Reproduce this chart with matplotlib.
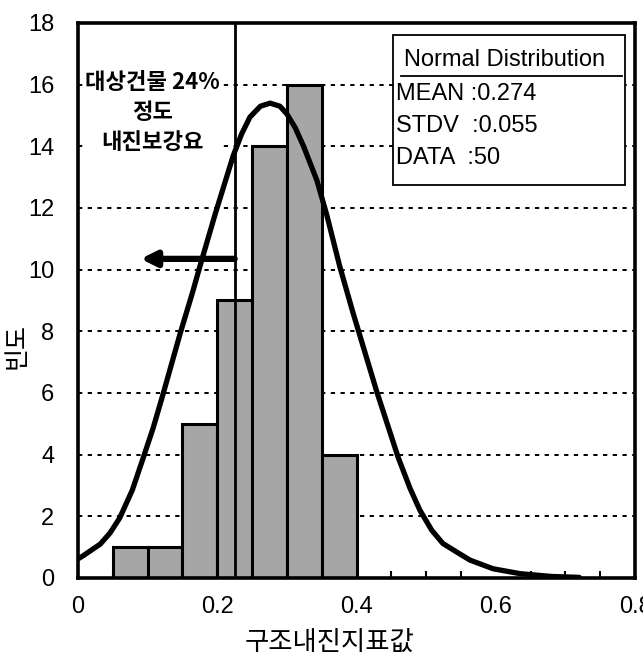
import matplotlib
matplotlib.use('Agg')
import matplotlib.pyplot as plt
from matplotlib.font_manager import fontManager
import numpy as np

# histogram of the seismic index (0.05 bins)
bin_left = [0.05, 0.10, 0.15, 0.20, 0.25, 0.30, 0.35]
counts = [1, 1, 5, 9, 14, 16, 4]
bin_width = 0.05

# fitted curve, read point by point
curve_x = [0.0, 0.006, 0.032, 0.046, 0.060, 0.078, 0.093, 0.108, 0.122, 0.147,
           0.165, 0.175, 0.197, 0.223, 0.235, 0.247, 0.262, 0.276, 0.290, 0.300,
           0.312, 0.324, 0.343, 0.357, 0.376, 0.395, 0.415, 0.429, 0.460, 0.477,
           0.491, 0.508, 0.524, 0.544, 0.563, 0.596, 0.635, 0.680, 0.720]
curve_y = [0.62, 0.70, 1.1, 1.46, 1.95, 2.85, 3.85, 4.87, 5.95, 7.95,
           9.3, 10.1, 11.8, 13.7, 14.4, 14.95, 15.3, 15.4, 15.3, 15.05,
           14.6, 14.0, 12.9, 11.8, 10.1, 8.6, 7.1, 6.05, 3.9, 2.9,
           2.2, 1.55, 1.12, 0.84, 0.58, 0.3, 0.14, 0.05, 0.02]

cut_x = 0.225      # 24% 경계선
arrow_y = 10.35
arrow_tip = 0.09

stat_lines = ['MEAN :0.274', 'STDV  :0.055', 'DATA  :50']

x_ticks = [0, 0.2, 0.4, 0.6, 0.8]
x_ticklabels = ['0', '0.2', '0.4', '0.6', '0.8']
y_ticks = list(range(0, 19, 2))

installed = {f.name for f in fontManager.ttflist}
narrow = 'Liberation Sans Narrow' if 'Liberation Sans Narrow' in installed else 'Liberation Sans'
kr = ['Noto Sans CJK KR', 'DejaVu Sans']

plt.rcParams['font.family'] = ['Liberation Sans', 'DejaVu Sans']

fig = plt.figure(figsize=(6.43, 6.62), dpi=100)
ax = fig.add_axes([0.1213, 0.1269, 0.8663, 0.8384])

# dashed grid behind the bars
for yv in y_ticks[1:-1]:
    ax.axhline(yv, color='black', lw=1.4, ls=(0, (2.2, 2.8)), zorder=0)

ax.bar(bin_left, counts, width=bin_width, align='edge', color='#a6a6a6',
       edgecolor='black', linewidth=2.2, zorder=2)

ax.plot(curve_x, curve_y, color='black', lw=3.8, solid_capstyle='round',
        solid_joinstyle='round', zorder=4)

ax.axvline(cut_x, color='black', lw=2.0, zorder=3)
ax.annotate('', xy=(arrow_tip, arrow_y), xytext=(cut_x, arrow_y),
            arrowprops=dict(arrowstyle='-|>,head_length=0.9,head_width=0.45',
                            lw=4.5, color='black', shrinkA=0, shrinkB=0),
            zorder=5)

ax.text(0.107, 15.1, '대상건물 24%\n정도\n내진보강요', family=kr, fontsize=16,
        fontweight='bold', ha='center', va='center', linespacing=1.4,
        bbox=dict(facecolor='white', edgecolor='none', pad=0.5), zorder=6)

# statistics box
box = plt.Rectangle((0.566, 0.708), 0.416, 0.270, transform=ax.transAxes,
                    facecolor='white', edgecolor='black', lw=1.3, zorder=6)
ax.add_patch(box)
ax.text(0.585, 0.934, 'Normal Distribution', transform=ax.transAxes, family=narrow,
        fontsize=17, va='center', ha='left', zorder=7)
ax.plot([0.580, 0.976], [0.905, 0.905], transform=ax.transAxes, color='black',
        lw=1.3, zorder=7)
for i, s in enumerate(stat_lines):
    ax.text(0.571, 0.872 - i * 0.058, s, transform=ax.transAxes, family=narrow,
            fontsize=17, va='center', ha='left', zorder=7)

ax.set_xlim(0, 0.8)
ax.set_ylim(0, 18)
ax.set_xticks(x_ticks)
ax.set_xticklabels(x_ticklabels)
ax.set_xticks(np.arange(0, 0.8001, 0.05), minor=True)
ax.set_yticks(y_ticks)
ax.tick_params(axis='both', which='major', labelsize=17, length=0, pad=13)
ax.tick_params(axis='y', pad=17)
ax.tick_params(axis='x', which='minor', direction='in', length=5, width=1.5)
for sp in ax.spines.values():
    sp.set_linewidth(2.6)
    sp.set_zorder(8)

fig.text(0.513, 0.030, '구조내진지표값', family=kr, fontsize=19, ha='center', va='center')
fig.text(0.026, 0.478, '빈도', family=kr, fontsize=18, rotation=90,
         ha='center', va='center')

fig.savefig('out.png', dpi=100)
